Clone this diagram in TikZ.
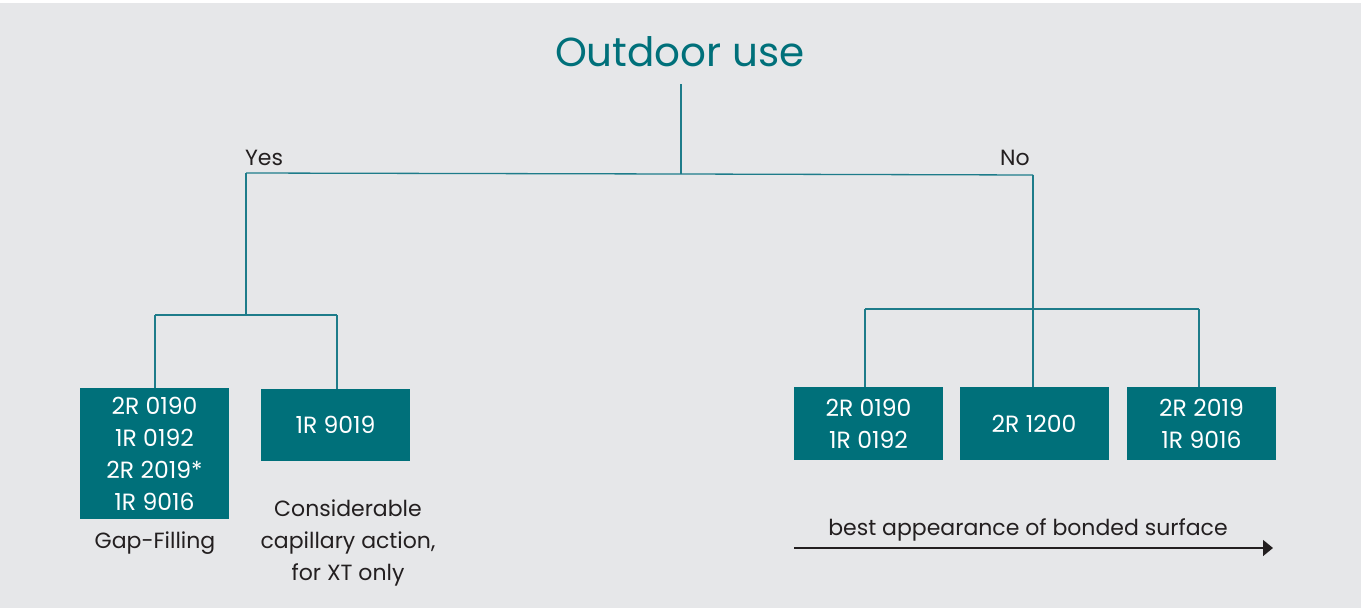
\documentclass[tikz,border=0pt]{standalone}
\usepackage{fontspec}
\setmainfont{Poppins}
\usepackage{tikz}
\usetikzlibrary{arrows.meta}
\definecolor{petrol}{RGB}{0,112,122}
\definecolor{branch}{RGB}{30,124,138}
\definecolor{backgr}{RGB}{230,231,233}
\definecolor{ink}{RGB}{35,31,32}

\begin{document}
\begin{tikzpicture}[x=1pt,y=-1pt,
	product/.style={fill=petrol,text=white,inner sep=0pt,minimum width=149pt,align=center,
		font=\fontsize{23.5}{32}\selectfont},
	note/.style={text=ink,align=center,font=\fontsize{22}{32}\selectfont},
	wire/.style={color=branch,line width=1.3pt}]
	\fill[white] (0,0) rectangle (1361,608);
	\fill[backgr] (0,3) rectangle (1361,608);

	\coordinate (t0) at (681,84);
	\coordinate (t1) at (681,174);
	\coordinate (yes) at (246,173);
	\coordinate (no) at (1033,175);
	\coordinate (y1) at (246,315);
	\coordinate (ya) at (155,315);
	\coordinate (yb) at (337,315);
	\coordinate (n1) at (865,309);
	\coordinate (n2) at (1033,309);
	\coordinate (n3) at (1199,309);
	\coordinate (a0) at (794,548);
	\coordinate (a1) at (1273,548);

	\node (title) at (680,52) [text=petrol,font=\fontsize{40.5}{42}\selectfont] {Outdoor use};
	\node (lyes) at (264,158) [note] {Yes};
	\node (lno) at (1015,158) [note] {No};

	\node (gap) at (154.5,453.5) [product,minimum height=131pt] {2R 0190\\1R 0192\\2R 2019*\\1R 9016};
	\node (cap) at (335.5,425) [product,minimum height=72pt] {1R 9019};
	\node (two) at (868.5,423.5) [product,minimum height=73pt] {2R 0190\\1R 0192};
	\node (mid) at (1034,423.5) [product,minimum height=73pt] {2R 1200};
	\node (best) at (1201.5,423.5) [product,minimum height=73pt] {2R 2019\\1R 9016};

	\node (gapl) at (155,543) [note] {Gap-Filling};
	\node (capl) at (348,543) [note] {Considerable\\capillary action,\\for XT only};
	\node (arrl) at (1028,530) [note] {best appearance of bonded surface};

	\draw[wire] (t0) -- (t1);
	\draw[wire] (yes) -- (t1) -- (no);
	\draw[wire] (yes) -- (y1);
	\draw[wire] (ya) -- (yb);
	\draw[wire] (ya) -- (ya |- gap.north);
	\draw[wire] (yb) -- (yb |- cap.north);
	\draw[wire] (no) -- (no |- mid.north);
	\draw[wire] (n1) -- (n3);
	\draw[wire] (n1) -- (n1 |- two.north);
	\draw[wire] (n3) -- (n3 |- best.north);
	\draw[color=ink,line width=1.3pt,-{Triangle[length=10pt,width=16pt]}] (a0) -- (a1);
\end{tikzpicture}
\end{document}
